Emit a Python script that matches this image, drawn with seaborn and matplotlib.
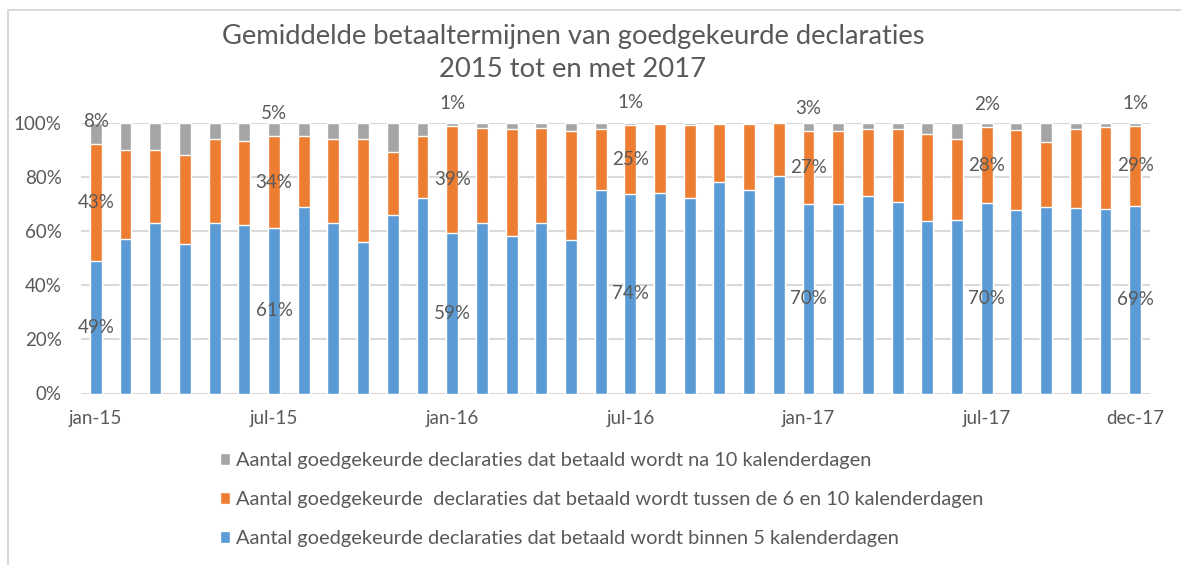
import matplotlib
matplotlib.use("Agg")
import matplotlib.pyplot as plt
from matplotlib.patches import Patch
from matplotlib.lines import Line2D
import seaborn as sns
import pandas as pd

# maanden jan-15 t/m dec-17
maand_namen = ["jan", "feb", "mrt", "apr", "mei", "jun",
               "jul", "aug", "sep", "okt", "nov", "dec"]
jaren = ["15", "16", "17"]
maanden = [f"{m}-{j}" for j in jaren for m in maand_namen]

# percentages per maand
binnen_5 = [49, 57, 63, 55, 63, 62, 61, 69, 63, 56, 66, 72,
            59.3, 63, 58, 63, 56.5, 75, 73.6, 74, 72, 78, 75, 80.3,
            70.1, 69.8, 72.7, 70.7, 63.7, 64.2, 70.2, 67.6, 68.7, 68.5, 67.9, 69.3]
tussen_6_10 = [43, 33, 27, 33, 31, 31, 34, 26, 31, 38, 23, 23,
               39.3, 35, 39.5, 35, 40.5, 22.5, 25.4, 25.5, 27, 21.3, 24.3, 19.5,
               26.6, 27, 24.8, 26.8, 31.9, 29.8, 28.0, 29.6, 24, 29.2, 30.6, 29.3]
na_10 = [8, 10, 10, 12, 6, 7, 5, 5, 6, 6, 11, 5,
         1.4, 2, 2.5, 2, 3, 2.5, 1.0, 0.5, 1, 0.7, 0.7, 0.2,
         3.3, 3.2, 2.5, 2.5, 4.4, 6, 1.8, 2.8, 7.3, 2.3, 1.5, 1.4]

label_idx = [0, 6, 12, 18, 24, 30, 35]
tick_labels = ["jan-15", "jul-15", "jan-16", "jul-16", "jan-17", "jul-17", "dec-17"]

legend_labels = [
    "Aantal goedgekeurde declaraties dat betaald wordt na 10 kalenderdagen",
    "Aantal goedgekeurde  declaraties dat betaald wordt tussen de 6 en 10 kalenderdagen",
    "Aantal goedgekeurde declaraties dat betaald wordt binnen 5 kalenderdagen",
]

blauw = "#5B9BD5"
oranje = "#ED7D31"
grijs = "#A5A5A5"
tekst = "#595959"
raster = "#D9D9D9"

sns.set_style("white")
plt.rcParams["font.family"] = ["Lato", "DejaVu Sans"]

df = pd.DataFrame({"maand": maanden, "blauw": binnen_5,
                   "oranje": tussen_6_10, "grijs": na_10})
df["tot_oranje"] = df["blauw"] + df["oranje"]
df["totaal"] = df["tot_oranje"] + df["grijs"]

fig = plt.figure(figsize=(11.81, 5.65), dpi=100)
ax = fig.add_axes([81 / 1181, 171.5 / 565, 1069 / 1181, 271 / 565])

# stacked via overlapping cumulative bars
sns.barplot(data=df, x="maand", y="totaal", color=grijs, width=0.4,
            saturation=1, ax=ax)
sns.barplot(data=df, x="maand", y="tot_oranje", color=oranje, width=0.4,
            saturation=1, ax=ax)
sns.barplot(data=df, x="maand", y="blauw", color=blauw, width=0.4,
            saturation=1, ax=ax)

ax.set_xlim(-0.5, len(maanden) - 0.5)
ax.set_ylim(0, 100)
ax.set_yticks(range(0, 101, 20))
ax.set_yticklabels([f"{v}%" for v in range(0, 101, 20)])
ax.set_xticks(label_idx)
ax.set_xticklabels(tick_labels)
ax.tick_params(axis="both", length=0, labelsize=13.5, labelcolor=tekst)
ax.tick_params(axis="y", pad=14)
ax.tick_params(axis="x", pad=12)
ax.set_xlabel("")
ax.set_ylabel("")
for s in ax.spines.values():
    s.set_visible(False)
ax.yaxis.grid(True, color=raster, lw=1.5)
ax.set_axisbelow(True)

# data labels
for i in label_idx:
    b, o, g = binnen_5[i], tussen_6_10[i], na_10[i]
    ax.text(i, b / 2, f"{b:.0f}%", ha="center", va="center",
            fontsize=13.5, color=tekst)
    ax.text(i, b + o / 2, f"{o:.0f}%", ha="center", va="center",
            fontsize=13.5, color=tekst)
    ax.text(i, 108.5 - g, f"{g:.0f}%", ha="center", va="center",
            fontsize=13.5, color=tekst, clip_on=False)

fig.text(573 / 1181, 1 - 53 / 565,
         "Gemiddelde betaaltermijnen van goedgekeurde declaraties\n2015 tot en met 2017",
         ha="center", va="center", fontsize=19.7, color=tekst, linespacing=1.42)

handles = [Patch(facecolor=grijs), Patch(facecolor=oranje), Patch(facecolor=blauw)]
fig.legend(handles, legend_labels, loc="upper left",
           bbox_to_anchor=(212 / 1181, 1 - 444 / 565), frameon=False,
           fontsize=14.4, labelcolor=tekst, handlelength=0.5, handleheight=0.5,
           handletextpad=0.3, labelspacing=1.1, borderaxespad=0)

# chart frame
fig.add_artist(Line2D([8 / 1181, 1], [1 - 10 / 565, 1 - 10 / 565],
                      transform=fig.transFigure, color=raster, lw=1.5))
fig.add_artist(Line2D([8 / 1181, 8 / 1181], [0, 1 - 10 / 565],
                      transform=fig.transFigure, color=raster, lw=1.5))

fig.savefig("out.png", dpi=100)
